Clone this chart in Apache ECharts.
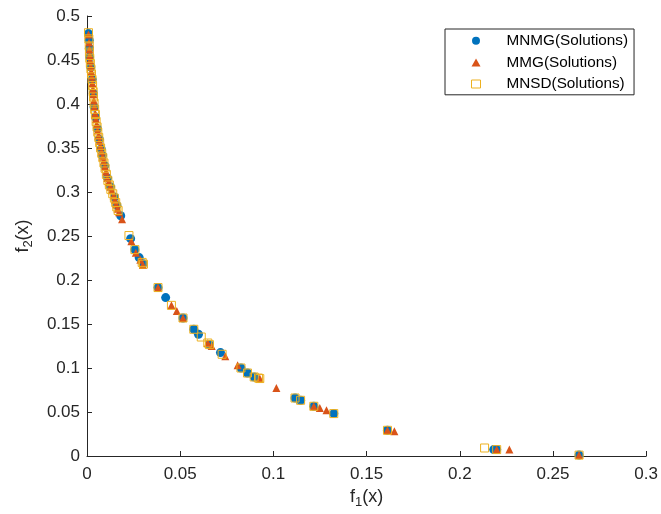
<!DOCTYPE html>
<html>
<head>
<meta charset="utf-8">
<script src="https://cdn.jsdelivr.net/npm/echarts@6/dist/echarts.min.js"></script>
<style>
html,body{margin:0;padding:0;background:#fff;}
#chart{width:661px;height:514px;}
</style>
</head>
<body>
<div id="chart"></div>
<script>
// Series names
const seriesNames = ['MNMG(Solutions)', 'MMG(Solutions)', 'MNSD(Solutions)'];

// MNMG (blue circles)
const mnmgF1 = [0.0008,0.0012,0.0013,0.0014,0.0020,0.0028,0.0034,0.0038,0.0046,0.0056,0.0066,0.0076,0.0083,0.0095,0.0110,0.0126,0.0147,0.0160,0.0181,0.0234,0.0257,0.0280,0.0301,0.0381,0.0422,0.0515,0.0573,0.0598,0.0657,0.0716,0.0826,0.0861,0.0897,0.1116,0.1146,0.1217,0.1324,0.1612,0.2182,0.2198,0.2640];
const mnmgF2 = [0.4800,0.4724,0.4634,0.4534,0.4420,0.4280,0.4120,0.3966,0.3850,0.3720,0.3600,0.3490,0.3417,0.3300,0.3160,0.3060,0.2943,0.2850,0.2730,0.2470,0.2345,0.2255,0.2186,0.1914,0.1800,0.1568,0.1440,0.1383,0.1266,0.1175,0.1000,0.0943,0.0898,0.0659,0.0633,0.0565,0.0482,0.0292,0.0073,0.0073,0.0010];

// MMG (red triangles)
const mmgF1 = [0.0008,0.0011,0.0013,0.0015,0.0017,0.0020,0.0023,0.0026,0.0029,0.0032,0.0034,0.0037,0.0040,0.0044,0.0048,0.0052,0.0057,0.0062,0.0067,0.0072,0.0078,0.0084,0.0090,0.0096,0.0102,0.0109,0.0116,0.0125,0.0133,0.0143,0.0150,0.0157,0.0164,0.0172,0.0188,0.0238,0.0262,0.0286,0.0300,0.0381,0.0453,0.0482,0.0515,0.0648,0.0669,0.0742,0.0808,0.0927,0.1016,0.1217,0.1249,0.1285,0.1612,0.1649,0.2198,0.2266,0.2640];
const mmgF2 = [0.4790,0.4700,0.4620,0.4550,0.4497,0.4430,0.4370,0.4310,0.4240,0.4170,0.4110,0.4040,0.3970,0.3891,0.3830,0.3770,0.3700,0.3640,0.3580,0.3520,0.3460,0.3400,0.3350,0.3290,0.3230,0.3160,0.3110,0.3060,0.3020,0.2960,0.2910,0.2860,0.2810,0.2770,0.2690,0.2440,0.2310,0.2230,0.2170,0.1914,0.1712,0.1648,0.1568,0.1284,0.1250,0.1133,0.1031,0.0880,0.0773,0.0565,0.0545,0.0519,0.0292,0.0281,0.0073,0.0073,0.0010];

// MNSD (yellow hollow squares)
const mnsdF1 = [0.0008,0.0010,0.0012,0.0013,0.0015,0.0018,0.0021,0.0024,0.0027,0.0030,0.0033,0.0035,0.0038,0.0041,0.0045,0.0049,0.0054,0.0058,0.0063,0.0068,0.0073,0.0079,0.0085,0.0091,0.0097,0.0104,0.0112,0.0120,0.0128,0.0138,0.0147,0.0154,0.0160,0.0167,0.0225,0.0257,0.0296,0.0303,0.0381,0.0453,0.0515,0.0573,0.0613,0.0648,0.0657,0.0725,0.0826,0.0861,0.0897,0.0920,0.0927,0.1116,0.1146,0.1217,0.1324,0.1612,0.2133,0.2198,0.2640];
const mnsdF2 = [0.4810,0.4740,0.4660,0.4590,0.4520,0.4460,0.4400,0.4340,0.4280,0.4210,0.4140,0.4080,0.4010,0.3940,0.3880,0.3800,0.3740,0.3680,0.3620,0.3560,0.3500,0.3440,0.3390,0.3330,0.3270,0.3200,0.3130,0.3080,0.3030,0.2980,0.2930,0.2880,0.2830,0.2790,0.2505,0.2345,0.2200,0.2180,0.1914,0.1712,0.1568,0.1440,0.1352,0.1284,0.1266,0.1156,0.1000,0.0943,0.0898,0.0886,0.0880,0.0659,0.0633,0.0565,0.0482,0.0292,0.0091,0.0073,0.0010];

// Axis tick values
const xTicks = [0, 0.05, 0.1, 0.15, 0.2, 0.25, 0.3];
const yTicks = [0, 0.05, 0.1, 0.15, 0.2, 0.25, 0.3, 0.35, 0.4, 0.45, 0.5];

function pairs(xs, ys) { return xs.map((x, i) => [x, ys[i]]); }

const FONT = '"Liberation Sans", Arial, Helvetica, sans-serif';
const AX = '#262626';

const chart = echarts.init(document.getElementById('chart'), null, {renderer: 'canvas'});
chart.setOption({
  animation: false,
  backgroundColor: '#ffffff',
  grid: {left: 87, right: 12, top: 16, bottom: 58, containLabel: false},
  xAxis: {
    type: 'value',
    min: xTicks[0], max: xTicks[xTicks.length - 1], interval: 0.05,
    name: '{a|f}{s|1}{a|(x)}',
    nameLocation: 'middle', nameGap: 30,
    nameTextStyle: {
      rich: {
        a: {fontFamily: FONT, fontSize: 18, color: AX},
        s: {fontFamily: FONT, fontSize: 13, color: AX, padding: [10, 0, 0, 0]}
      }
    },
    axisLine: {show: true, lineStyle: {color: AX, width: 1}},
    axisTick: {show: true, inside: true, length: 5, lineStyle: {color: AX}},
    axisLabel: {color: AX, fontFamily: FONT, fontSize: 17, margin: 10,
      formatter: v => String(+v.toFixed(2))},
    splitLine: {show: false}
  },
  yAxis: {
    type: 'value',
    min: yTicks[0], max: yTicks[yTicks.length - 1], interval: 0.05,
    name: '{a|f}{s|2}{a|(x)}',
    nameLocation: 'middle', nameGap: 52, nameRotate: 90,
    nameTextStyle: {
      rich: {
        a: {fontFamily: FONT, fontSize: 18, color: AX},
        s: {fontFamily: FONT, fontSize: 13, color: AX, padding: [10, 0, 0, 0]}
      }
    },
    axisLine: {show: true, lineStyle: {color: AX, width: 1}},
    axisTick: {show: true, inside: true, length: 5, lineStyle: {color: AX}},
    axisLabel: {color: AX, fontFamily: FONT, fontSize: 17, margin: 7,
      formatter: v => String(+v.toFixed(2))},
    splitLine: {show: false}
  },
  legend: {
    orient: 'vertical',
    left: 445, top: 29,
    padding: [1, 6, 0, 26],
    itemGap: 0,
    itemWidth: 9, itemHeight: 8,
    backgroundColor: '#fff',
    borderColor: AX, borderWidth: 1,
    formatter: '{t|{name}}',
    textStyle: {fontFamily: FONT, fontSize: 15.3, color: '#000', lineHeight: 21.6,
      rich: {t: {fontFamily: FONT, fontSize: 15.3, color: '#000', lineHeight: 21.6, padding: [0, 0, 0, 21]}}},
    data: [
      {name: seriesNames[0], icon: 'circle'},
      {name: seriesNames[1], icon: 'triangle'},
      {name: seriesNames[2], icon: 'rect', itemStyle: {color: 'rgba(0,0,0,0)', borderColor: '#EDB120', borderWidth: 1}}
    ]
  },
  series: [
    {
      name: seriesNames[0], type: 'scatter', symbol: 'circle', symbolSize: 9,
      itemStyle: {color: '#0072BD', opacity: 1},
      data: pairs(mnmgF1, mnmgF2)
    },
    {
      name: seriesNames[1], type: 'scatter', symbol: 'triangle', symbolSize: 8,
      itemStyle: {color: '#D95319', opacity: 1},
      data: pairs(mmgF1, mmgF2)
    },
    {
      name: seriesNames[2], type: 'scatter', symbol: 'rect', symbolSize: 8,
      itemStyle: {color: 'rgba(0,0,0,0)', borderColor: '#EDB120', borderWidth: 1, opacity: 1},
      data: pairs(mnsdF1, mnsdF2)
    }
  ]
});
</script>
</body>
</html>
